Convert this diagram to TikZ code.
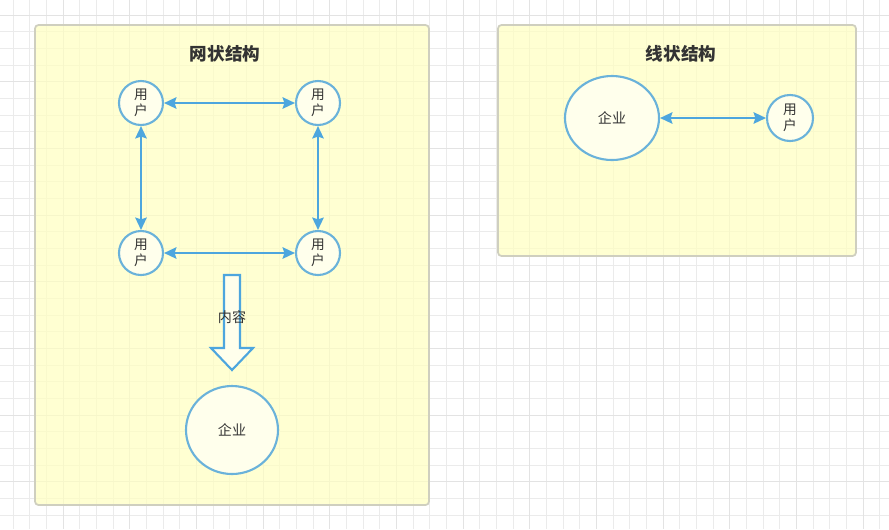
\documentclass[tikz,border=0pt]{standalone}
\usepackage{xcolor}
\usepackage{fontspec}
\newfontfamily\cjk{Noto Sans CJK SC}
\usepackage{tikz}
\usetikzlibrary{arrows,arrows.meta}
\definecolor{panel_y}{HTML}{FFFFC0}
\definecolor{panel_b}{HTML}{CFCFBF}
\definecolor{ring_b}{HTML}{6AB2DA}
\definecolor{link_b}{HTML}{4DA6DE}
\definecolor{node_f}{HTML}{FFFFEC}
\definecolor{txt_g}{HTML}{333333}
\tikzstyle{grid_m} = [draw=black!8, line width=0.55pt]
\tikzstyle{grid_M} = [draw=black!11, line width=0.55pt]
\tikzstyle{panel_n} = [draw=panel_b, fill=panel_y, fill opacity=0.7, line width=1pt, rounded corners=2pt]
\tikzstyle{title_n} = [font=\cjk\bfseries\fontsize{10}{12}\selectfont, text=txt_g]
\tikzstyle{usr_n} = [circle, draw=ring_b, fill=node_f, line width=1.2pt, minimum size=44*0.02cm, inner sep=0pt, align=center, font=\cjk\fontsize{7.8}{9.2}\selectfont, text=txt_g]
\tikzstyle{ent_n} = [ellipse, draw=ring_b, fill=node_f, line width=1.2pt, inner sep=0pt, font=\cjk\fontsize{8}{10}\selectfont, text=txt_g]
\tikzstyle{link_e} = [{Stealth[length=7pt,width=6.5pt,inset=1pt]}-{Stealth[length=7pt,width=6.5pt,inset=1pt]}, draw=link_b, line width=1.2pt]
\tikzstyle{flow_e} = [draw=link_b, fill=node_f, line width=1.2pt, line join=miter]
\tikzstyle{lbl_n} = [font=\cjk\fontsize{8}{10}\selectfont, text=txt_g, inner sep=1pt]
\usetikzlibrary{shapes.geometric}

\begin{document}
\begin{tikzpicture}[x=0.02cm, y=-0.02cm]
\useasboundingbox (0,0) rectangle (889,529);
\fill[white] (0,0) rectangle (889,529);
% background grid
\foreach \i in {0,...,53}
    \draw[grid_m] (13+\i*16.667,0) -- (13+\i*16.667,529);
\foreach \i in {0,...,32}
    \draw[grid_m] (0,-1.667+\i*16.667) -- (889,-1.667+\i*16.667);
\foreach \i in {0,...,13}
    \draw[grid_M] (-3.667+\i*66.667,0) -- (-3.667+\i*66.667,529);
\foreach \i in {0,...,8}
    \draw[grid_M] (0,15+\i*66.667) -- (889,15+\i*66.667);

% panels
\draw[panel_n] (35,25) rectangle (429,505);
\draw[panel_n] (498,25) rectangle (856,256);
\node [title_n] (t_net) at (225,54) {网状结构};
\node [title_n] (t_line) at (681,54) {线状结构};

% mesh structure
\node [usr_n] (u1) at (141,103) {用\\户};
\node [usr_n] (u2) at (318,103) {用\\户};
\node [usr_n] (u3) at (141,253) {用\\户};
\node [usr_n] (u4) at (318,253) {用\\户};
\draw [link_e] (u1) -- (u2);
\draw [link_e] (u1) -- (u3);
\draw [link_e] (u2) -- (u4);
\draw [link_e] (u3) -- (u4);

\coordinate (flow_top) at (232,275);
\draw [flow_e] (224,275) -- (240,275) -- (240,348) -- (253,348) -- (232,370)
    -- (211,348) -- (224,348) -- cycle;
\node [lbl_n] (flow_lbl) at (232,317) {内容};
\node [ent_n, minimum width=92*0.02cm, minimum height=88*0.02cm] (e1) at (232,430) {企业};

% linear structure
\node [ent_n, minimum width=94*0.02cm, minimum height=84*0.02cm] (e2) at (612,118) {企业};
\node [usr_n, minimum size=46*0.02cm] (u5) at (790,118) {用\\户};
\draw [link_e] (e2) -- (u5);
\end{tikzpicture}
\end{document}
